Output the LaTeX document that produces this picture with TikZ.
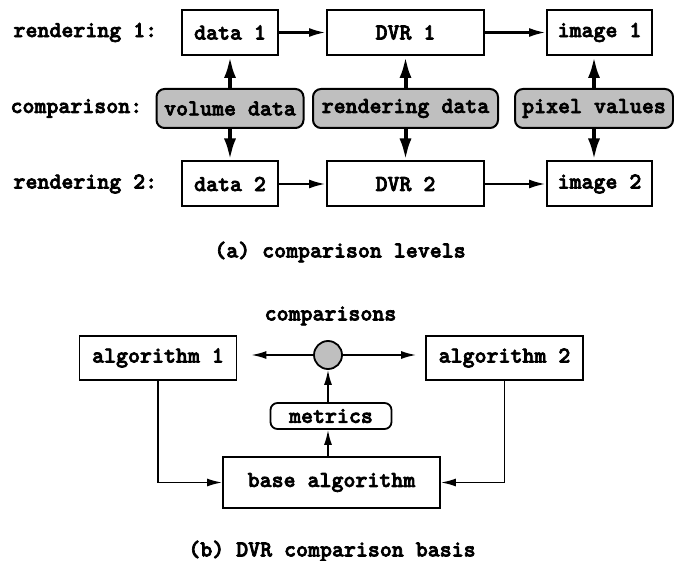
\documentclass[tikz,border=0pt]{standalone}
\usepackage{fontspec}
\newfontfamily\courbold{lmmonolt10-bold}[Extension=.otf, FakeBold=3]
\usetikzlibrary{arrows.meta,positioning}

\begin{document}
\begin{tikzpicture}[x=1pt, y=-1pt, font=\courbold\fontsize{22.8}{26}\selectfont,
    box/.style={draw, line width=2pt, inner sep=0pt, minimum height=45pt},
    cmpbox/.style={draw, line width=2pt, rounded corners=8pt, fill=gray!50, inner sep=0pt, minimum height=39pt},
    thinbox/.style={draw, line width=1.8pt, inner sep=0pt},
    flow/.style={-{Latex[length=17pt,width=9pt]}, line width=2.7pt},
    lvl/.style={-{Latex[length=22pt,width=12pt]}, line width=4pt},
    feed/.style={-{Latex[length=15pt,width=8pt]}, line width=1.7pt}]
    \useasboundingbox (0,0) rectangle (674,561);

    % (a) the two rendering pipelines
    \node[anchor=west] (lab1) at (10,32.5) {rendering 1:};
    \node[anchor=west] (labc) at (7,108.5) {comparison:};
    \node[anchor=west] (lab2) at (10,184) {rendering 2:};

    \node[box, minimum width=96pt]  (dat1) at (230,32.5)   {data 1};
    \node[box, minimum width=157pt] (dvr1) at (405.5,32.5) {DVR 1};
    \node[box, minimum width=105pt] (img1) at (599.5,32.5) {image 1};

    \node[cmpbox, minimum width=147pt] (vol)  at (230,108.5)   {volume data};
    \node[cmpbox, minimum width=185pt] (rend) at (405.5,108.5) {rendering data};
    \node[cmpbox, minimum width=158pt] (pix)  at (594,108.5)   {pixel values};

    \node[box, minimum width=96pt]  (dat2) at (230,184)   {data 2};
    \node[box, minimum width=157pt] (dvr2) at (405.5,184) {DVR 2};
    \node[box, minimum width=105pt] (img2) at (599.5,184) {image 2};

    \draw[flow] (dat1) -- (dvr1);
    \draw[flow] (dvr1) -- (img1);
    \draw[flow] (dat2) -- (dvr2);
    \draw[flow] (dvr2) -- (img2);

    % comparison levels
    \draw[lvl] (vol.north) -- (dat1.south);
    \draw[lvl] (vol.south) -- (dat2.north);
    \draw[lvl] (rend.north) -- (dvr1.south);
    \draw[lvl] (rend.south) -- (dvr2.north);
    \draw[lvl] (pix.north) -- (pix.north |- img1.south);
    \draw[lvl] (pix.south) -- (pix.south |- img2.north);

    \node (capa) at (340,252) {(a) comparison levels};

    % (b) comparison basis
    \node (cmps) at (330.5,316) {comparisons};
    \node[thinbox, minimum width=157pt, minimum height=44pt] (alg1) at (158,358)   {algorithm 1};
    \node[thinbox, minimum width=157pt, minimum height=44pt] (alg2) at (504.5,358) {algorithm 2};
    \node[circle, draw, line width=1.8pt, fill=gray!50, minimum size=28pt, inner sep=0pt] (circ) at (328,355) {};
    \node[thinbox, rounded corners=7pt, minimum width=121pt, minimum height=26pt] (met) at (331,416) {metrics};
    \node[thinbox, minimum width=217pt, minimum height=51pt] (base) at (331.5,482.5) {base algorithm};

    \draw[feed, shorten >=14pt] (circ.west) -- (circ.west -| alg1.east);
    \draw[feed, shorten >=9pt] (circ.east) -- (circ.east -| alg2.west);
    \draw[feed] (base.north -| circ) -- (met.south -| circ);
    \draw[feed] (met.north -| circ) -- (circ.south);
    \draw[feed] (alg1.south) |- (base.west);
    \draw[feed] (alg2.south) |- (base.east);

    \node (capb) at (332,551) {(b) DVR comparison basis};
\end{tikzpicture}
\end{document}
